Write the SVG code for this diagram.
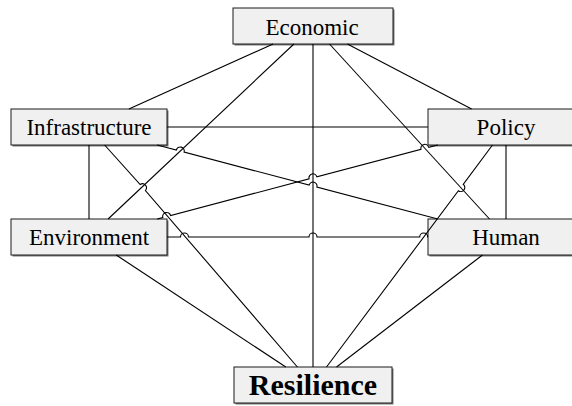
<svg xmlns="http://www.w3.org/2000/svg" width="572" height="406" viewBox="0 0 572 406">
<style>
.shadow{fill:#7a7a7a}
.box{fill:#f0f0f0;stroke:#1a1a1a;stroke-width:1}
.lbl{font-family:"Liberation Serif","Times New Roman",serif;font-size:23px;fill:#000;text-anchor:middle}
.big{font-size:30px;font-weight:bold}
.c path,.c line{fill:none;stroke:#000;stroke-width:1.1}
</style>
<rect width="572" height="406" fill="#fff"/>
<g id="economic"><rect class="shadow" x="234.5" y="9.5" width="160" height="36"/><rect class="box" x="233" y="8" width="160" height="36"/><text class="lbl" x="312" y="35">Economic</text></g>
<g id="infrastructure"><rect class="shadow" x="12.5" y="110.5" width="156" height="36"/><rect class="box" x="11" y="109" width="156" height="36"/><text class="lbl" x="89" y="135">Infrastructure</text></g>
<g id="policy"><rect class="shadow" x="429.5" y="110.5" width="156" height="36"/><rect class="box" x="428" y="109" width="156" height="36"/><text class="lbl" x="506" y="135">Policy</text></g>
<g id="environment"><rect class="shadow" x="12.5" y="220.5" width="156" height="36"/><rect class="box" x="11" y="219" width="156" height="36"/><text class="lbl" x="89" y="245">Environment</text></g>
<g id="human"><rect class="shadow" x="429.5" y="220.5" width="156" height="36"/><rect class="box" x="428" y="219" width="156" height="36"/><text class="lbl" x="506" y="245">Human</text></g>
<g id="resilience"><rect class="shadow" x="235.5" y="368.5" width="158" height="36"/><rect class="box" x="234" y="367" width="158" height="36"/><text class="lbl big" x="313" y="395">Resilience</text></g>
<g id="connectors" class="c">
<line x1="273.1" y1="44" x2="128.9" y2="109"/>
<line x1="293.9" y1="44" x2="108.1" y2="219"/>
<line x1="313" y1="44" x2="313" y2="367"/>
<line x1="347.4" y1="44" x2="471.6" y2="109"/>
<line x1="329.5" y1="44" x2="489.5" y2="219"/>
<line x1="167" y1="127" x2="428" y2="127"/>
<line x1="89" y1="145" x2="89" y2="219"/>
<line x1="506" y1="145" x2="506" y2="219"/>
<path d="M167,237 L180.5,237 A4,4 0 0 1 188.5,237 L309,237 A4,4 0 0 1 317,237 L419.7,237 A4,4 0 0 1 427.7,237 L428,237"/>
<path d="M157.2,145 L176.3,150 A4,4 0 0 1 184.1,152.1 L309.1,185.1 A4,4 0 0 1 316.9,187.1 L437.8,219"/>
<path d="M157.2,219 L162.8,217.5 A4,4 0 0 1 170.6,215.5 L309.1,178.9 A4,4 0 0 1 316.9,176.9 L421,149.4 A4,4 0 0 1 428.8,147.4 L437.8,145"/>
<path d="M104.6,145 L140.2,184.5 A4,4 0 0 1 145.4,190.5 L297.4,367"/>
<line x1="116.2" y1="255" x2="285.8" y2="367"/>
<path d="M492.5,145 L463.2,184.3 A4,4 0 0 1 458.4,190.7 L326.5,367"/>
<line x1="482.5" y1="255" x2="336.5" y2="367"/>
</g>
</svg>
